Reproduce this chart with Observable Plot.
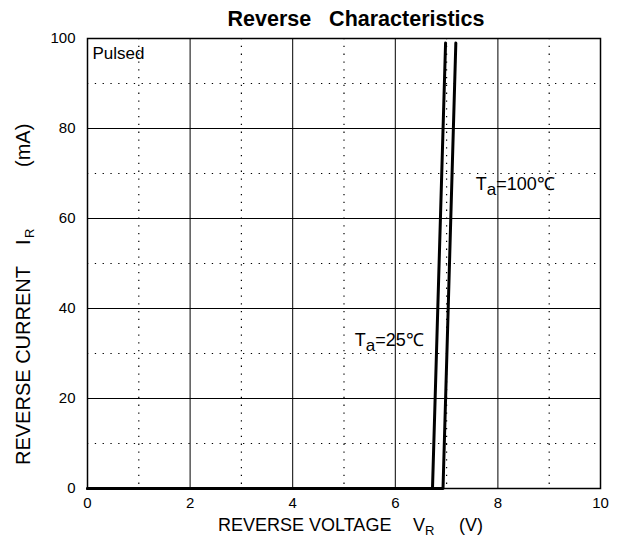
<!DOCTYPE html>
<html><head><meta charset="utf-8">
<script src="https://cdn.jsdelivr.net/npm/d3@7"></script>
<script src="https://cdn.jsdelivr.net/npm/@observablehq/plot@0.6"></script>
<style>
body{margin:0;background:#fff}
svg{font-family:"Liberation Sans",Arial,sans-serif}
</style>
</head><body><div id="chart"></div>
<script>
const xMajor = [0, 2, 4, 6, 8, 10];
const xMinor = [1, 3, 5, 7, 9];
const yMajor = [0, 20, 40, 60, 80, 100];
const yMinor = [10, 30, 50, 70, 90];
const vr25 = [0, 6.725, 6.98];
const ir25 = [0, 0, 99];
const vr100 = [0, 6.93, 7.18];
const ir100 = [0, 0, 99];
const titleText = "Reverse   Characteristics";
const noteText = "Pulsed";

const s25 = vr25.map((v, i) => ({v, i: ir25[i]}));
const s100 = vr100.map((v, i) => ({v, i: ir100[i]}));

const chart = Plot.plot({
  width: 620, height: 541,
  marginLeft: 87, marginRight: 20, marginTop: 38, marginBottom: 53,
  style: {fontFamily: '"Liberation Sans", Arial, sans-serif', fontSize: "15px", background: "#fff", color: "#000"},
  x: {domain: [0, 10], label: null},
  y: {domain: [0, 100], label: null},
  marks: [
    Plot.ruleX(xMinor, {stroke: "#000", strokeWidth: 1.2, strokeDasharray: "1.3,6.5"}),
    Plot.ruleY(yMinor, {stroke: "#000", strokeWidth: 1.2, strokeDasharray: "1.3,6.5"}),
    Plot.ruleX(xMajor, {stroke: "#000", strokeWidth: 1}),
    Plot.ruleY(yMajor, {stroke: "#000", strokeWidth: 1}),
    Plot.frame({stroke: "#000", strokeWidth: 1.5}),
    Plot.axisX(xMajor, {tickSize: 0, tickPadding: 9, fontSize: 15, label: null}),
    Plot.axisY(yMajor, {tickSize: 0, tickPadding: 12, fontSize: 15, label: null}),
    Plot.line(s25, {x: "v", y: "i", stroke: "#000", strokeWidth: 3}),
    Plot.line(s100, {x: "v", y: "i", stroke: "#000", strokeWidth: 3}),
    Plot.text([noteText], {frameAnchor: "top-left", dx: 5, dy: 8, fontSize: 17, fill: "#000", textAnchor: "start"})
  ]
});
document.getElementById("chart").appendChild(chart);

const svg = d3.select(chart);
const X = chart.scale("x"), Y = chart.scale("y");
const g = svg.append("g").attr("fill", "#000").attr("text-anchor", "start").style("white-space", "pre");

// title
g.append("text").attr("x", 356).attr("y", 26)
  .attr("text-anchor", "middle").attr("font-weight", "bold").attr("font-size", 21.5)
  .text(titleText);

// x label
g.append("text").attr("x", 218).attr("y", 531).attr("font-size", 18).text("REVERSE VOLTAGE");
g.append("text").attr("x", 413).attr("y", 531).attr("font-size", 18).text("V");
g.append("text").attr("x", 425).attr("y", 535).attr("font-size", 13).text("R");
g.append("text").attr("x", 459).attr("y", 531).attr("font-size", 18).text("(V)");

// y label (rotated)
const yl = g.append("g").attr("transform", "translate(30,0) rotate(-90)");
yl.append("text").attr("x", -465).attr("y", 0).attr("font-size", 20).text("REVERSE CURRENT");
yl.append("text").attr("x", -245).attr("y", 0).attr("font-size", 20).text("I");
yl.append("text").attr("x", -238).attr("y", 4).attr("font-size", 13).text("R");
yl.append("text").attr("x", -167).attr("y", 0).attr("font-size", 20).text("(mA)");

// annotations
function note(xv, yv, tempText) {
  const t = g.append("text").attr("x", X.apply(xv)).attr("y", Y.apply(yv)).attr("font-size", 18);
  t.append("tspan").text("T");
  t.append("tspan").attr("dy", 5).attr("font-size", 17).text("a");
  t.append("tspan").attr("dy", -5).text("=" + tempText);
}
note(5.22, 31.5, "25℃");
note(7.58, 66.2, "100℃");
</script>
</body></html>
